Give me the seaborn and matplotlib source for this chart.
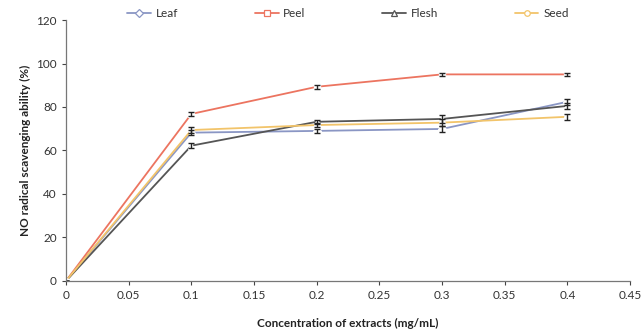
import matplotlib
matplotlib.use("Agg")
import matplotlib.pyplot as plt
from matplotlib.lines import Line2D
import pandas as pd
import seaborn as sns

# concentration (mg/mL) and NO radical scavenging ability (%)
conc = [0, 0.1, 0.2, 0.3, 0.4]
leaf = [0, 68.2, 69.0, 69.9, 82.4]
peel = [0, 76.8, 89.3, 95.0, 95.0]
flesh = [0, 62.2, 73.2, 74.5, 80.5]
seed = [0, 69.4, 71.7, 72.8, 75.5]
leaf_err = [0, 1.0, 1.0, 1.5, 1.5]
peel_err = [0, 1.0, 0.8, 0.8, 0.8]
flesh_err = [0, 1.2, 1.0, 1.8, 1.5]
seed_err = [0, 1.2, 1.0, 1.5, 1.5]

series = ["Leaf", "Peel", "Flesh", "Seed"]
colors = {"Leaf": "#8a96c4", "Peel": "#ec7460", "Flesh": "#555555", "Seed": "#f2c46a"}
markers = {"Leaf": "D", "Peel": "s", "Flesh": "^", "Seed": "o"}

df = pd.DataFrame({
    "conc": conc * 4,
    "value": leaf + peel + flesh + seed,
    "err": leaf_err + peel_err + flesh_err + seed_err,
    "sample": [s for s in series for _ in conc],
})

sns.set_style("white")
plt.rcParams["font.family"] = ["Lato", "DejaVu Sans"]

fig = plt.figure(figsize=(6.41, 3.34), dpi=100)
ax = fig.add_axes([0.103, 0.159, 0.880, 0.781])

sns.lineplot(data=df, x="conc", y="value", hue="sample", style="sample",
             palette=colors, markers=markers, dashes=False, ax=ax,
             linewidth=1.3, markersize=4, markerfacecolor="white",
             markeredgewidth=0.9, legend=False)

for s in series:
    sub = df[df["sample"] == s]
    ax.errorbar(sub["conc"], sub["value"], yerr=sub["err"], fmt="none",
                ecolor="#222222", elinewidth=1.0, capsize=2.5, capthick=1.0)

ax.set_xlim(0, 0.45)
ax.set_ylim(0, 120)
ax.set_xticks([0, 0.05, 0.1, 0.15, 0.2, 0.25, 0.3, 0.35, 0.4, 0.45])
ax.set_xticklabels(["0", "0.05", "0.1", "0.15", "0.2", "0.25", "0.3", "0.35", "0.4", "0.45"])
ax.set_yticks(range(0, 121, 20))
ax.tick_params(axis="both", direction="out", length=3, width=0.8,
               labelsize=8.5, colors="#444444", bottom=True, left=True)
ax.tick_params(axis="both", labelcolor="#333333")
for side in ["top", "right"]:
    ax.spines[side].set_visible(False)
for side in ["left", "bottom"]:
    ax.spines[side].set_color("#777777")
    ax.spines[side].set_linewidth(0.9)

ax.set_xlabel("Concentration of extracts (mg/mL)", fontsize=8.5,
              fontweight="bold", color="#222222", labelpad=12)
ax.set_ylabel("NO radical scavenging ability (%)", fontsize=8.5,
              fontweight="bold", color="#222222", labelpad=4)

handles = [Line2D([], [], color=colors[s], marker=markers[s], markersize=4,
                  markerfacecolor="white", markeredgecolor=colors[s],
                  markeredgewidth=0.9, linewidth=1.3) for s in series]
ax.legend(handles, series, loc="upper center", bbox_to_anchor=(0.5, 1.085),
          ncol=4, frameon=False, fontsize=8.5, columnspacing=6.5,
          handlelength=2.0, handletextpad=0.4, labelcolor="#333333")

fig.savefig("out.png", dpi=100)
